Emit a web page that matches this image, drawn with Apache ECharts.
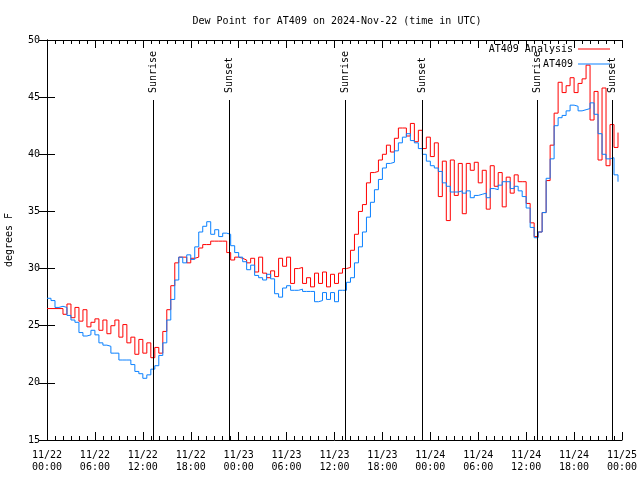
<!DOCTYPE html>
<html>
<head>
<meta charset="utf-8">
<script src="https://cdn.jsdelivr.net/npm/echarts@6/dist/echarts.min.js"></script>
<style>html,body{margin:0;padding:0;background:#fff}#c{width:640px;height:480px}</style>
</head>
<body>
<div id="c"></div>
<script>
// Half-hourly samples starting 2024-11-22 00:00 UTC (hours since start)
var STEP_HOURS = 0.5;
var analysisValues = [
26.5,26.5,26.5,26.5,26.0,26.9,25.7,26.6,25.4,26.4,
24.9,25.3,25.6,24.6,25.5,24.3,25.0,25.5,24.0,25.1,
23.5,24.0,22.5,23.8,22.6,23.5,22.2,23.1,22.6,24.5,
26.4,28.5,30.5,31.0,31.0,30.5,30.9,31.0,31.8,32.1,
32.1,32.4,32.4,32.4,32.4,31.4,30.75,31.0,30.9,30.75,
30.5,30.9,29.7,31.0,29.6,29.2,29.8,29.3,30.9,30.2,
31.0,28.7,30.0,30.1,28.7,29.2,28.4,29.6,28.7,29.7,
28.4,29.5,28.7,29.6,30.0,30.1,31.6,33.0,35.0,35.6,
37.5,38.4,38.5,39.5,40.0,40.8,40.2,41.4,42.3,42.3,
41.6,42.7,41.1,42.1,40.5,41.5,39.8,41.0,36.3,39.4,
34.2,39.5,36.4,39.2,34.8,39.2,38.6,39.3,37.5,38.6,
35.2,39.0,37.2,38.4,35.4,38.0,36.6,38.2,37.6,37.6,
35.7,34.0,32.8,33.2,34.9,37.7,40.8,43.6,46.3,45.4,
46.0,46.7,45.4,46.2,46.6,47.8,43.0,45.5,39.5,45.8,
39.0,42.6,40.6,41.9
];
var stationValues = [
27.4,27.2,26.6,26.7,26.6,25.9,25.5,25.3,24.4,24.1,
24.2,24.6,24.2,23.5,23.3,23.2,22.6,22.6,22.0,22.0,
22.0,21.6,21.0,20.8,20.4,20.7,21.2,21.5,22.4,23.5,
25.5,27.3,29.0,31.0,30.5,31.2,30.8,31.9,33.2,33.7,
34.1,33.0,33.4,32.8,33.1,33.0,32.0,31.4,31.0,30.6,
29.9,30.3,29.4,29.2,29.0,29.5,29.1,27.8,27.5,28.3,
28.5,28.1,28.1,28.2,28.0,28.0,28.0,27.1,27.2,27.9,
27.3,27.9,27.1,28.1,28.1,28.8,29.2,30.5,31.9,33.2,
34.5,35.8,36.9,37.8,38.8,39.2,39.3,40.3,41.0,41.5,
41.8,41.2,41.0,40.5,40.0,39.4,39.0,38.8,38.5,37.5,
37.2,36.7,36.7,36.8,36.6,36.8,36.2,36.4,36.5,36.6,
36.2,37.0,36.9,37.3,37.6,37.6,37.0,37.2,36.8,36.3,
35.3,33.6,32.7,33.2,34.9,37.9,39.6,42.5,43.2,43.4,
43.8,44.3,44.2,43.8,43.9,44.0,44.5,43.5,41.8,40.0,
39.6,39.7,38.2,37.6
];
var seriesNames = ['AT409 Analysis', 'AT409'];
var sunHours = [13.31, 22.83, 37.33, 46.92, 61.40, 70.80];
var sunLabels = ['Sunrise', 'Sunset', 'Sunrise', 'Sunset', 'Sunrise', 'Sunset'];
var xTickLabels = ['11/22\n00:00','11/22\n06:00','11/22\n12:00','11/22\n18:00',
  '11/23\n00:00','11/23\n06:00','11/23\n12:00','11/23\n18:00',
  '11/24\n00:00','11/24\n06:00','11/24\n12:00','11/24\n18:00','11/25\n00:00'];
var yTicks = [15, 50, 5];

var FONT = '"DejaVu Sans Mono", "Liberation Mono", monospace';
function pairs(vals) { return vals.map(function (v, i) { return [i * STEP_HOURS, v]; }); }

var chart = echarts.init(document.getElementById('c'), null, { renderer: 'canvas' });
var axisLine = { show: true, lineStyle: { color: '#000', width: 1 } };
var option = {
  animation: false,
  backgroundColor: '#fff',
  title: {
    text: 'Dew Point for AT409 on 2024-Nov-22 (time in UTC)',
    left: 332, top: 11, textAlign: 'center',
    textStyle: { fontFamily: FONT, fontSize: 10, fontWeight: 'normal', color: '#000' }
  },
  legend: {
    data: seriesNames,
    orient: 'vertical', align: 'right',
    right: 25, top: 38,
    icon: 'rect', itemWidth: 32, itemHeight: 1, itemGap: 3,
    textStyle: { fontFamily: FONT, fontSize: 10, color: '#000', lineHeight: 12 }
  },
  grid: { left: 47, right: 18, top: 40, bottom: 40, containLabel: false, outerBoundsMode: 'none' },
  xAxis: [{
    type: 'value', min: 0, max: 72, interval: 6,
    axisLine: axisLine,
    axisTick: { inside: true, length: 8, lineStyle: { color: '#000' } },
    minorTick: { show: true, splitNumber: 6, length: 4, lineStyle: { color: '#000' } },
    splitLine: { show: false },
    axisLabel: {
      margin: 9, fontFamily: FONT, fontSize: 10, color: '#000', lineHeight: 12,
      formatter: function (v) { return xTickLabels[Math.round(v / 6)] || ''; }
    }
  }, {
    type: 'value', min: 0, max: 72, interval: 6, position: 'top',
    axisLine: axisLine,
    axisTick: { inside: true, length: 8, lineStyle: { color: '#000' } },
    minorTick: { show: true, splitNumber: 6, length: 4, lineStyle: { color: '#000' } },
    splitLine: { show: false }, axisLabel: { show: false }
  }],
  yAxis: [{
    type: 'value', min: yTicks[0], max: yTicks[1], interval: yTicks[2],
    name: 'degrees F', nameLocation: 'middle', nameGap: 33, nameRotate: 90,
    nameTextStyle: { fontFamily: FONT, fontSize: 10, color: '#000' },
    axisLine: axisLine,
    axisTick: { inside: true, length: 8, lineStyle: { color: '#000' } },
    splitLine: { show: false },
    axisLabel: { margin: 7, fontFamily: FONT, fontSize: 10, color: '#000' }
  }, {
    type: 'value', min: yTicks[0], max: yTicks[1], interval: yTicks[2], position: 'right',
    axisLine: axisLine,
    axisTick: { inside: true, length: 8, lineStyle: { color: '#000' } },
    splitLine: { show: false }, axisLabel: { show: false }
  }],
  series: [{
    name: seriesNames[0], type: 'line', data: pairs(analysisValues),
    step: 'end', symbol: 'none', color: '#ff0000',
    lineStyle: { width: 1, color: '#ff0000' }, z: 3
  }, {
    name: seriesNames[1], type: 'line', data: pairs(stationValues),
    step: 'end', symbol: 'none', color: '#0a80ff',
    lineStyle: { width: 1, color: '#0a80ff' }, z: 4
  }, {
    name: 'sun', type: 'custom', z: 5, silent: true, clip: false,
    data: sunHours.map(function (h) { return [h, yTicks[0]]; }),
    renderItem: function (params, api) {
      var h = api.value(0);
      var p0 = api.coord([h, yTicks[0]]);
      var p1 = api.coord([h, 44.75]);
      var x = Math.round(p0[0]) + 0.5;
      return {
        type: 'group',
        children: [{
          type: 'line',
          shape: { x1: x, y1: p0[1], x2: x, y2: Math.round(p1[1]) },
          style: { stroke: '#000', lineWidth: 1 }
        }, {
          type: 'text', x: x, y: p1[1] - 7, rotation: Math.PI / 2,
          style: {
            text: sunLabels[params.dataIndex], fill: '#000',
            font: '10px ' + FONT, align: 'left', verticalAlign: 'middle'
          }
        }]
      };
    }
  }]
};
chart.setOption(option);
</script>
</body>
</html>
